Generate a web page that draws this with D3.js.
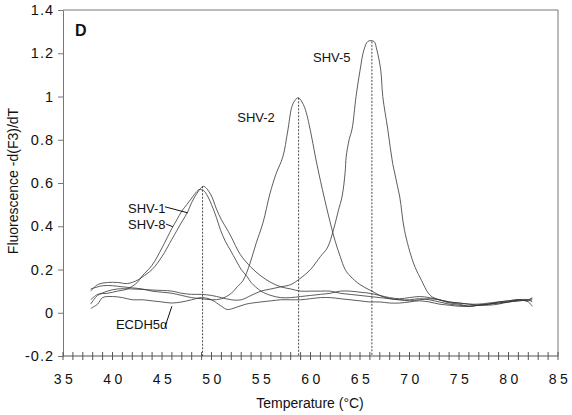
<!DOCTYPE html>
<html>
<head>
<meta charset="utf-8">
<script src="https://cdn.jsdelivr.net/npm/d3@7"></script>
<style>
  html, body { margin: 0; padding: 0; background: #fff; }
  svg { display: block; }
  text { font-family: "Liberation Sans", Arial, Helvetica, sans-serif; fill: #111; }
</style>
</head>
<body>
<svg id="chart" width="572" height="415"></svg>
<script>
// ---- data (temperature °C, -dF/dT) ----
const shv1 = [[37.8,0.10],[38.5,0.13],[39.5,0.14],[40.5,0.14],[41.5,0.135],[42.5,0.15],[43,0.165],[44,0.20],[45,0.26],[46,0.34],[47,0.42],[47.6,0.467],[48,0.51],[48.5,0.55],[49,0.58],[49.2,0.585],[49.5,0.575],[50,0.54],[50.5,0.48],[51,0.43],[51.6,0.384],[52,0.35],[52.9,0.27],[54,0.21],[55,0.17],[56,0.14],[57,0.12],[58,0.11],[59,0.10],[60,0.10],[61,0.10],[62,0.10],[63,0.09],[64,0.085],[65,0.08],[66,0.075],[67,0.07],[68,0.065],[69,0.06],[70,0.055],[71,0.06],[72,0.065],[73,0.06],[74,0.05],[75,0.045],[76,0.04],[77,0.035],[78,0.035],[79,0.04],[80,0.05],[81,0.055],[82,0.06],[82.4,0.07]];
const shv8 = [[37.8,0.06],[38.5,0.085],[39.5,0.09],[40.5,0.10],[41.5,0.11],[42.5,0.14],[43,0.17],[44,0.22],[45,0.30],[46,0.39],[46.5,0.43],[47,0.47],[47.5,0.50],[48,0.53],[48.5,0.56],[48.8,0.57],[49.2,0.565],[49.6,0.54],[50,0.50],[50.5,0.44],[50.9,0.384],[51.4,0.33],[51.9,0.29],[52.5,0.24],[53,0.20],[53.6,0.167],[54,0.14],[55,0.10],[56,0.08],[57,0.07],[58,0.07],[59,0.075],[60,0.08],[61,0.085],[62,0.09],[63,0.10],[64,0.10],[65,0.095],[66,0.09],[67,0.08],[68,0.07],[69,0.065],[70,0.07],[71,0.075],[72,0.07],[73,0.06],[74,0.05],[75,0.045],[76,0.04],[77,0.04],[78,0.045],[79,0.05],[80,0.055],[81,0.06],[82,0.05],[82.4,0.03]];
const shv2 = [[37.8,0.11],[39,0.125],[40,0.125],[41,0.12],[42,0.115],[43,0.11],[44,0.10],[45,0.095],[46,0.09],[47,0.08],[48,0.07],[49,0.065],[50,0.06],[51,0.065],[52,0.09],[52.6,0.12],[53.2,0.15],[53.9,0.23],[54.5,0.32],[55.2,0.416],[55.9,0.55],[56.5,0.64],[57.2,0.72],[57.7,0.84],[58.1,0.95],[58.4,0.98],[58.7,0.994],[58.9,0.99],[59.4,0.95],[60,0.84],[60.5,0.72],[61.2,0.57],[62,0.416],[62.5,0.33],[63,0.26],[63.5,0.20],[64,0.17],[65,0.13],[66.2,0.10],[67,0.08],[68,0.065],[69,0.06],[70,0.06],[71,0.065],[72,0.06],[73,0.05],[74,0.04],[75,0.035],[76,0.03],[77,0.035],[78,0.04],[79,0.045],[80,0.05],[81,0.06],[82,0.06],[82.4,0.05]];
const shv5 = [[37.8,0.04],[38.5,0.08],[39.5,0.10],[40.5,0.11],[42,0.11],[44,0.105],[46,0.10],[47,0.09],[48,0.085],[49,0.085],[50,0.08],[51,0.07],[52,0.06],[53,0.06],[54,0.08],[55,0.10],[56,0.11],[57,0.12],[58,0.13],[59,0.16],[60,0.20],[61,0.26],[61.7,0.30],[62.3,0.38],[62.8,0.47],[63.2,0.54],[63.5,0.65],[63.6,0.72],[63.9,0.80],[64.2,0.85],[64.6,1.0],[65.0,1.12],[65.4,1.216],[65.8,1.255],[66.4,1.255],[66.7,1.216],[67.1,1.12],[67.3,1.0],[67.8,0.85],[68.3,0.69],[69.0,0.54],[69.5,0.38],[70.4,0.23],[71.1,0.16],[72.1,0.08],[73,0.06],[74,0.046],[75,0.04],[76,0.03],[77,0.035],[78,0.04],[79,0.05],[80,0.055],[81,0.06],[82,0.055],[82.4,0.06]];
const ecdh = [[37.8,0.02],[38.5,0.04],[39,0.07],[40,0.075],[41,0.07],[42,0.06],[43,0.06],[44,0.055],[45,0.05],[46,0.045],[47,0.05],[48,0.06],[49,0.07],[50,0.06],[51,0.03],[51.6,0.015],[52.5,0.025],[53.5,0.04],[55,0.05],[56,0.055],[57,0.06],[58,0.06],[59,0.06],[60,0.065],[61,0.07],[62,0.07],[63,0.065],[64,0.06],[65,0.055],[66,0.05],[67,0.05],[68,0.045],[69,0.045],[70,0.05],[71,0.055],[72,0.05],[73,0.04],[74,0.035],[75,0.03],[76,0.03],[77,0.035],[78,0.04],[79,0.045],[80,0.05],[81,0.055],[82,0.06],[82.4,0.065]];

// melting peaks (Tm, peak height) for the dashed drop lines
const peakTemps = [49.1, 58.8, 66.2];
const peakValues = [0.585, 0.994, 1.255];

// tick labels
const xTicks = [35, 40, 45, 50, 55, 60, 65, 70, 75, 80, 85];
const yTicks = [-0.2, 0, 0.2, 0.4, 0.6, 0.8, 1, 1.2, 1.4];
const yTickLabels = ["-0.2", "0", "0.2", "0.4", "0.6", "0.8", "1", "1.2", "1.4"];

// annotations: text, anchor (T, value)
const labelNames = ["SHV-5", "SHV-2", "SHV-1", "SHV-8", "ECDH5\u03B1"];
const labelPos = [[60.25, 1.16], [52.6, 0.883], [41.57, 0.462], [41.57, 0.388], [40.35, -0.074]];
// leader lines for labels [T1, v1, T2, v2]
const leaders = [[45.3, 0.49, 47.6, 0.462], [45.4, 0.41, 46.1, 0.398], [45.3, -0.065, 46.0, 0.03]];

// ---- drawing ----
const svg = d3.select("#chart");
const L = 63, R = 558, T = 10, B = 356;
const x = d3.scaleLinear().domain([35, 85]).range([L, R]);
const y = d3.scaleLinear().domain([-0.2, 1.4]).range([B, T]);

const frame = "#777";

// frame (top and right)
svg.append("line").attr("x1", L).attr("x2", R).attr("y1", T).attr("y2", T)
  .attr("stroke", frame).attr("stroke-width", 1);
svg.append("line").attr("x1", R).attr("x2", R).attr("y1", T).attr("y2", B)
  .attr("stroke", frame).attr("stroke-width", 1);

// y axis
const yAxis = d3.axisLeft(y).tickValues(yTicks).tickSize(5).tickSizeOuter(0)
  .tickFormat((d, i) => yTickLabels[i]);
const gy = svg.append("g").attr("transform", `translate(${L},0)`).call(yAxis);
gy.select(".domain").attr("stroke", frame);
gy.selectAll(".tick line").attr("stroke", frame);
gy.selectAll(".tick text").attr("x", -9).attr("font-size", 14.5)
  .style("letter-spacing", "1px")
  .attr("font-family", "'Liberation Sans', Arial, sans-serif").attr("fill", "#111");

// x axis: minor ticks every degree crossing the axis line
const xMinor = d3.range(35, 86, 1);
const gx = svg.append("g").attr("transform", `translate(0,${B})`);
gx.append("line").attr("x1", L).attr("x2", R).attr("y1", 0).attr("y2", 0)
  .attr("stroke", "#555").attr("stroke-width", 1);
gx.selectAll("line.tk").data(xMinor).enter().append("line").attr("class", "tk")
  .attr("x1", d => x(d)).attr("x2", d => x(d)).attr("y1", -4).attr("y2", 4)
  .attr("stroke", "#555").attr("stroke-width", 1);
gx.selectAll("text").data(xTicks).enter().append("text")
  .attr("x", d => x(d) + 2).attr("y", 28)
  .attr("text-anchor", "middle").attr("font-size", 14)
  .style("letter-spacing", "3.5px")
  .text(d => d);

// axis titles
svg.append("text").attr("x", 310).attr("y", 408).attr("text-anchor", "middle")
  .attr("font-size", 14).text("Temperature (\u00B0C)");
svg.append("text").attr("transform", "translate(18,181) rotate(-90)")
  .attr("text-anchor", "middle").attr("font-size", 14)
  .text("Fluorescence -d(F3)/dT");

// panel letter
svg.append("text").attr("x", 75).attr("y", 36).attr("font-size", 16)
  .attr("font-weight", "bold").text("D");

// dashed peak lines
peakTemps.forEach((t, i) => {
  svg.append("line").attr("x1", x(t)).attr("x2", x(t))
    .attr("y1", y(peakValues[i])).attr("y2", y(-0.2))
    .attr("stroke", "#333").attr("stroke-width", 0.9)
    .attr("stroke-dasharray", "2,1.5");
});

// curves
const line = d3.line().x(d => x(d[0])).y(d => y(d[1]))
  .curve(d3.curveCatmullRom.alpha(0.5));
[shv1, shv8, shv2, shv5, ecdh].forEach(s => {
  svg.append("path").datum(s).attr("d", line)
    .attr("fill", "none").attr("stroke", "#333").attr("stroke-width", 0.8);
});

// annotations
labelNames.forEach((n, i) => {
  svg.append("text").attr("x", x(labelPos[i][0])).attr("y", y(labelPos[i][1]))
    .attr("font-size", 13).text(n);
});
leaders.forEach(l => {
  svg.append("line").attr("x1", x(l[0])).attr("y1", y(l[1]))
    .attr("x2", x(l[2])).attr("y2", y(l[3]))
    .attr("stroke", "#111").attr("stroke-width", 1);
});
</script>
</body>
</html>
